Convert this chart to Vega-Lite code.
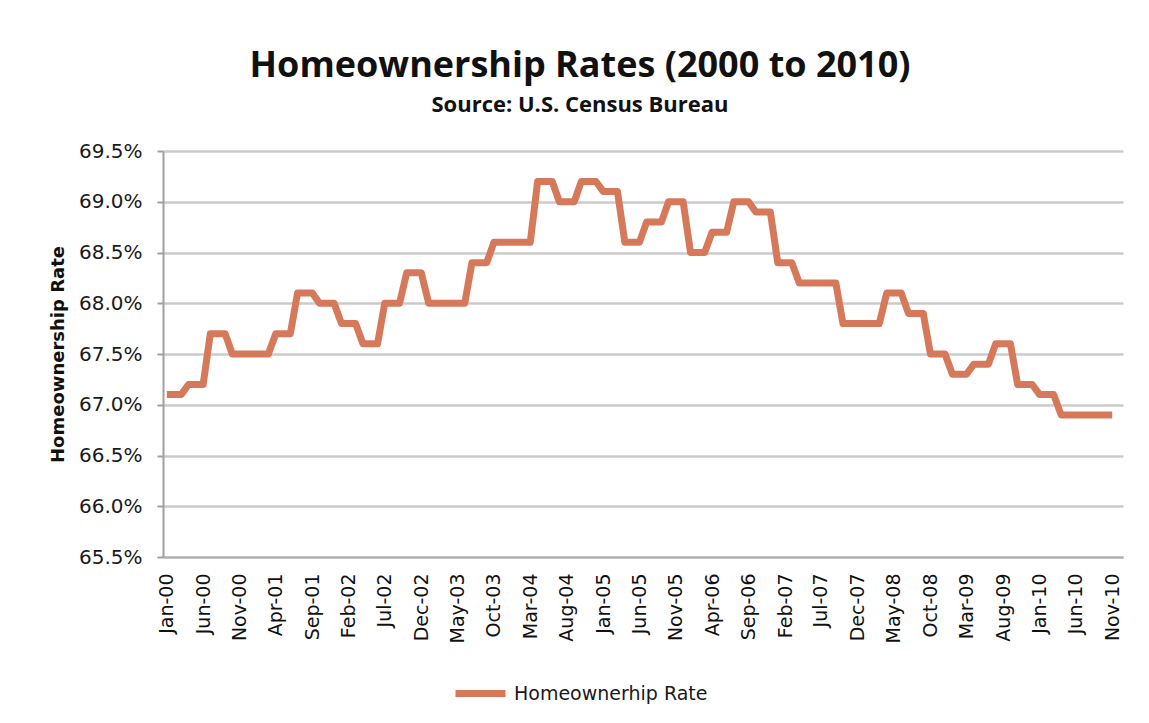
{
  "$schema": "https://vega.github.io/schema/vega-lite/v6.json",
  "width": 960,
  "height": 406,
  "autosize": {"type": "none"},
  "padding": {"left": 163, "top": 151, "right": 26, "bottom": 166},
  "background": "white",
  "title": {
    "text": "Homeownership Rates (2000 to 2010)",
    "subtitle": "Source: U.S. Census Bureau",
    "anchor": "middle",
    "dx": -63,
    "offset": 24,
    "font": "Open Sans",
    "fontSize": 36,
    "fontWeight": "bold",
    "color": "#111111",
    "subtitleFont": "Open Sans",
    "subtitleFontSize": 22,
    "subtitleFontWeight": "bold",
    "subtitleColor": "#111111",
    "subtitlePadding": 10
  },
  "data": {
    "values": [
      {"m": "2000-01-01", "r": 67.1}, {"m": "2000-02-01", "r": 67.1}, {"m": "2000-03-01", "r": 67.1},
      {"m": "2000-04-01", "r": 67.2}, {"m": "2000-05-01", "r": 67.2}, {"m": "2000-06-01", "r": 67.2},
      {"m": "2000-07-01", "r": 67.7}, {"m": "2000-08-01", "r": 67.7}, {"m": "2000-09-01", "r": 67.7},
      {"m": "2000-10-01", "r": 67.5}, {"m": "2000-11-01", "r": 67.5}, {"m": "2000-12-01", "r": 67.5},
      {"m": "2001-01-01", "r": 67.5}, {"m": "2001-02-01", "r": 67.5}, {"m": "2001-03-01", "r": 67.5},
      {"m": "2001-04-01", "r": 67.7}, {"m": "2001-05-01", "r": 67.7}, {"m": "2001-06-01", "r": 67.7},
      {"m": "2001-07-01", "r": 68.1}, {"m": "2001-08-01", "r": 68.1}, {"m": "2001-09-01", "r": 68.1},
      {"m": "2001-10-01", "r": 68.0}, {"m": "2001-11-01", "r": 68.0}, {"m": "2001-12-01", "r": 68.0},
      {"m": "2002-01-01", "r": 67.8}, {"m": "2002-02-01", "r": 67.8}, {"m": "2002-03-01", "r": 67.8},
      {"m": "2002-04-01", "r": 67.6}, {"m": "2002-05-01", "r": 67.6}, {"m": "2002-06-01", "r": 67.6},
      {"m": "2002-07-01", "r": 68.0}, {"m": "2002-08-01", "r": 68.0}, {"m": "2002-09-01", "r": 68.0},
      {"m": "2002-10-01", "r": 68.3}, {"m": "2002-11-01", "r": 68.3}, {"m": "2002-12-01", "r": 68.3},
      {"m": "2003-01-01", "r": 68.0}, {"m": "2003-02-01", "r": 68.0}, {"m": "2003-03-01", "r": 68.0},
      {"m": "2003-04-01", "r": 68.0}, {"m": "2003-05-01", "r": 68.0}, {"m": "2003-06-01", "r": 68.0},
      {"m": "2003-07-01", "r": 68.4}, {"m": "2003-08-01", "r": 68.4}, {"m": "2003-09-01", "r": 68.4},
      {"m": "2003-10-01", "r": 68.6}, {"m": "2003-11-01", "r": 68.6}, {"m": "2003-12-01", "r": 68.6},
      {"m": "2004-01-01", "r": 68.6}, {"m": "2004-02-01", "r": 68.6}, {"m": "2004-03-01", "r": 68.6},
      {"m": "2004-04-01", "r": 69.2}, {"m": "2004-05-01", "r": 69.2}, {"m": "2004-06-01", "r": 69.2},
      {"m": "2004-07-01", "r": 69.0}, {"m": "2004-08-01", "r": 69.0}, {"m": "2004-09-01", "r": 69.0},
      {"m": "2004-10-01", "r": 69.2}, {"m": "2004-11-01", "r": 69.2}, {"m": "2004-12-01", "r": 69.2},
      {"m": "2005-01-01", "r": 69.1}, {"m": "2005-02-01", "r": 69.1}, {"m": "2005-03-01", "r": 69.1},
      {"m": "2005-04-01", "r": 68.6}, {"m": "2005-05-01", "r": 68.6}, {"m": "2005-06-01", "r": 68.6},
      {"m": "2005-07-01", "r": 68.8}, {"m": "2005-08-01", "r": 68.8}, {"m": "2005-09-01", "r": 68.8},
      {"m": "2005-10-01", "r": 69.0}, {"m": "2005-11-01", "r": 69.0}, {"m": "2005-12-01", "r": 69.0},
      {"m": "2006-01-01", "r": 68.5}, {"m": "2006-02-01", "r": 68.5}, {"m": "2006-03-01", "r": 68.5},
      {"m": "2006-04-01", "r": 68.7}, {"m": "2006-05-01", "r": 68.7}, {"m": "2006-06-01", "r": 68.7},
      {"m": "2006-07-01", "r": 69.0}, {"m": "2006-08-01", "r": 69.0}, {"m": "2006-09-01", "r": 69.0},
      {"m": "2006-10-01", "r": 68.9}, {"m": "2006-11-01", "r": 68.9}, {"m": "2006-12-01", "r": 68.9},
      {"m": "2007-01-01", "r": 68.4}, {"m": "2007-02-01", "r": 68.4}, {"m": "2007-03-01", "r": 68.4},
      {"m": "2007-04-01", "r": 68.2}, {"m": "2007-05-01", "r": 68.2}, {"m": "2007-06-01", "r": 68.2},
      {"m": "2007-07-01", "r": 68.2}, {"m": "2007-08-01", "r": 68.2}, {"m": "2007-09-01", "r": 68.2},
      {"m": "2007-10-01", "r": 67.8}, {"m": "2007-11-01", "r": 67.8}, {"m": "2007-12-01", "r": 67.8},
      {"m": "2008-01-01", "r": 67.8}, {"m": "2008-02-01", "r": 67.8}, {"m": "2008-03-01", "r": 67.8},
      {"m": "2008-04-01", "r": 68.1}, {"m": "2008-05-01", "r": 68.1}, {"m": "2008-06-01", "r": 68.1},
      {"m": "2008-07-01", "r": 67.9}, {"m": "2008-08-01", "r": 67.9}, {"m": "2008-09-01", "r": 67.9},
      {"m": "2008-10-01", "r": 67.5}, {"m": "2008-11-01", "r": 67.5}, {"m": "2008-12-01", "r": 67.5},
      {"m": "2009-01-01", "r": 67.3}, {"m": "2009-02-01", "r": 67.3}, {"m": "2009-03-01", "r": 67.3},
      {"m": "2009-04-01", "r": 67.4}, {"m": "2009-05-01", "r": 67.4}, {"m": "2009-06-01", "r": 67.4},
      {"m": "2009-07-01", "r": 67.6}, {"m": "2009-08-01", "r": 67.6}, {"m": "2009-09-01", "r": 67.6},
      {"m": "2009-10-01", "r": 67.2}, {"m": "2009-11-01", "r": 67.2}, {"m": "2009-12-01", "r": 67.2},
      {"m": "2010-01-01", "r": 67.1}, {"m": "2010-02-01", "r": 67.1}, {"m": "2010-03-01", "r": 67.1},
      {"m": "2010-04-01", "r": 66.9}, {"m": "2010-05-01", "r": 66.9}, {"m": "2010-06-01", "r": 66.9},
      {"m": "2010-07-01", "r": 66.9}, {"m": "2010-08-01", "r": 66.9}, {"m": "2010-09-01", "r": 66.9},
      {"m": "2010-10-01", "r": 66.9}, {"m": "2010-11-01", "r": 66.9}
    ]
  },
  "mark": {"type": "line", "strokeWidth": 7, "strokeJoin": "round", "strokeCap": "butt"},
  "encoding": {
    "x": {
      "field": "m",
      "type": "temporal",
      "scale": {
        "type": "utc",
        "domain": [
          {"year": 1999, "month": 12, "date": 16, "utc": true},
          {"year": 2010, "month": 12, "date": 16, "utc": true}
        ]
      },
      "axis": {
        "title": null,
        "values": [
          {"year": 2000, "month": 1, "date": 1, "utc": true},
          {"year": 2000, "month": 6, "date": 1, "utc": true},
          {"year": 2000, "month": 11, "date": 1, "utc": true},
          {"year": 2001, "month": 4, "date": 1, "utc": true},
          {"year": 2001, "month": 9, "date": 1, "utc": true},
          {"year": 2002, "month": 2, "date": 1, "utc": true},
          {"year": 2002, "month": 7, "date": 1, "utc": true},
          {"year": 2002, "month": 12, "date": 1, "utc": true},
          {"year": 2003, "month": 5, "date": 1, "utc": true},
          {"year": 2003, "month": 10, "date": 1, "utc": true},
          {"year": 2004, "month": 3, "date": 1, "utc": true},
          {"year": 2004, "month": 8, "date": 1, "utc": true},
          {"year": 2005, "month": 1, "date": 1, "utc": true},
          {"year": 2005, "month": 6, "date": 1, "utc": true},
          {"year": 2005, "month": 11, "date": 1, "utc": true},
          {"year": 2006, "month": 4, "date": 1, "utc": true},
          {"year": 2006, "month": 9, "date": 1, "utc": true},
          {"year": 2007, "month": 2, "date": 1, "utc": true},
          {"year": 2007, "month": 7, "date": 1, "utc": true},
          {"year": 2007, "month": 12, "date": 1, "utc": true},
          {"year": 2008, "month": 5, "date": 1, "utc": true},
          {"year": 2008, "month": 10, "date": 1, "utc": true},
          {"year": 2009, "month": 3, "date": 1, "utc": true},
          {"year": 2009, "month": 8, "date": 1, "utc": true},
          {"year": 2010, "month": 1, "date": 1, "utc": true},
          {"year": 2010, "month": 6, "date": 1, "utc": true},
          {"year": 2010, "month": 11, "date": 1, "utc": true}
        ],
        "format": "%b-%y",
        "labelAngle": -90,
        "labelAlign": "right",
        "labelBaseline": "middle",
        "labelPadding": 16,
        "labelFont": "DejaVu Sans",
        "labelFontSize": 19,
        "labelColor": "#111111",
        "labelOverlap": false,
        "labelFlush": false,
        "ticks": false,
        "domain": true,
        "domainColor": "#b0b0b0",
        "domainWidth": 2,
        "grid": false
      }
    },
    "y": {
      "field": "r",
      "type": "quantitative",
      "scale": {"domain": [65.5, 69.5], "nice": false, "zero": false},
      "axis": {
        "title": "Homeownership Rate",
        "titleFont": "DejaVu Sans",
        "titleFontSize": 18,
        "titleFontWeight": "bold",
        "titleColor": "#111111",
        "titlePadding": 11,
        "values": [65.5, 66, 66.5, 67, 67.5, 68, 68.5, 69, 69.5],
        "labelExpr": "format(datum.value, '.1f') + '%'",
        "labelFont": "DejaVu Sans",
        "labelFontSize": 20,
        "labelColor": "#1a1a1a",
        "labelPadding": 15,
        "labelFlush": false,
        "labelOverlap": false,
        "ticks": true,
        "tickSize": 6,
        "tickColor": "#a0a0a0",
        "tickWidth": 2,
        "domain": true,
        "domainColor": "#a0a0a0",
        "domainWidth": 2,
        "grid": true,
        "gridColor": "#cbcbcb",
        "gridWidth": 2.5
      }
    },
    "color": {
      "datum": "Homeownerhip Rate",
      "type": "nominal",
      "scale": {"range": ["#d6795b"]},
      "legend": {
        "title": null,
        "orient": "none",
        "legendX": 289,
        "legendY": 514,
        "padding": 0,
        "symbolType": "stroke",
        "symbolSize": 2500,
        "symbolStrokeWidth": 7,
        "labelFont": "DejaVu Sans",
        "labelFontSize": 19,
        "labelColor": "#1a1a1a",
        "labelOffset": 5,
        "labelLimit": 0
      }
    }
  },
  "config": {
    "view": {"stroke": null}
  }
}
